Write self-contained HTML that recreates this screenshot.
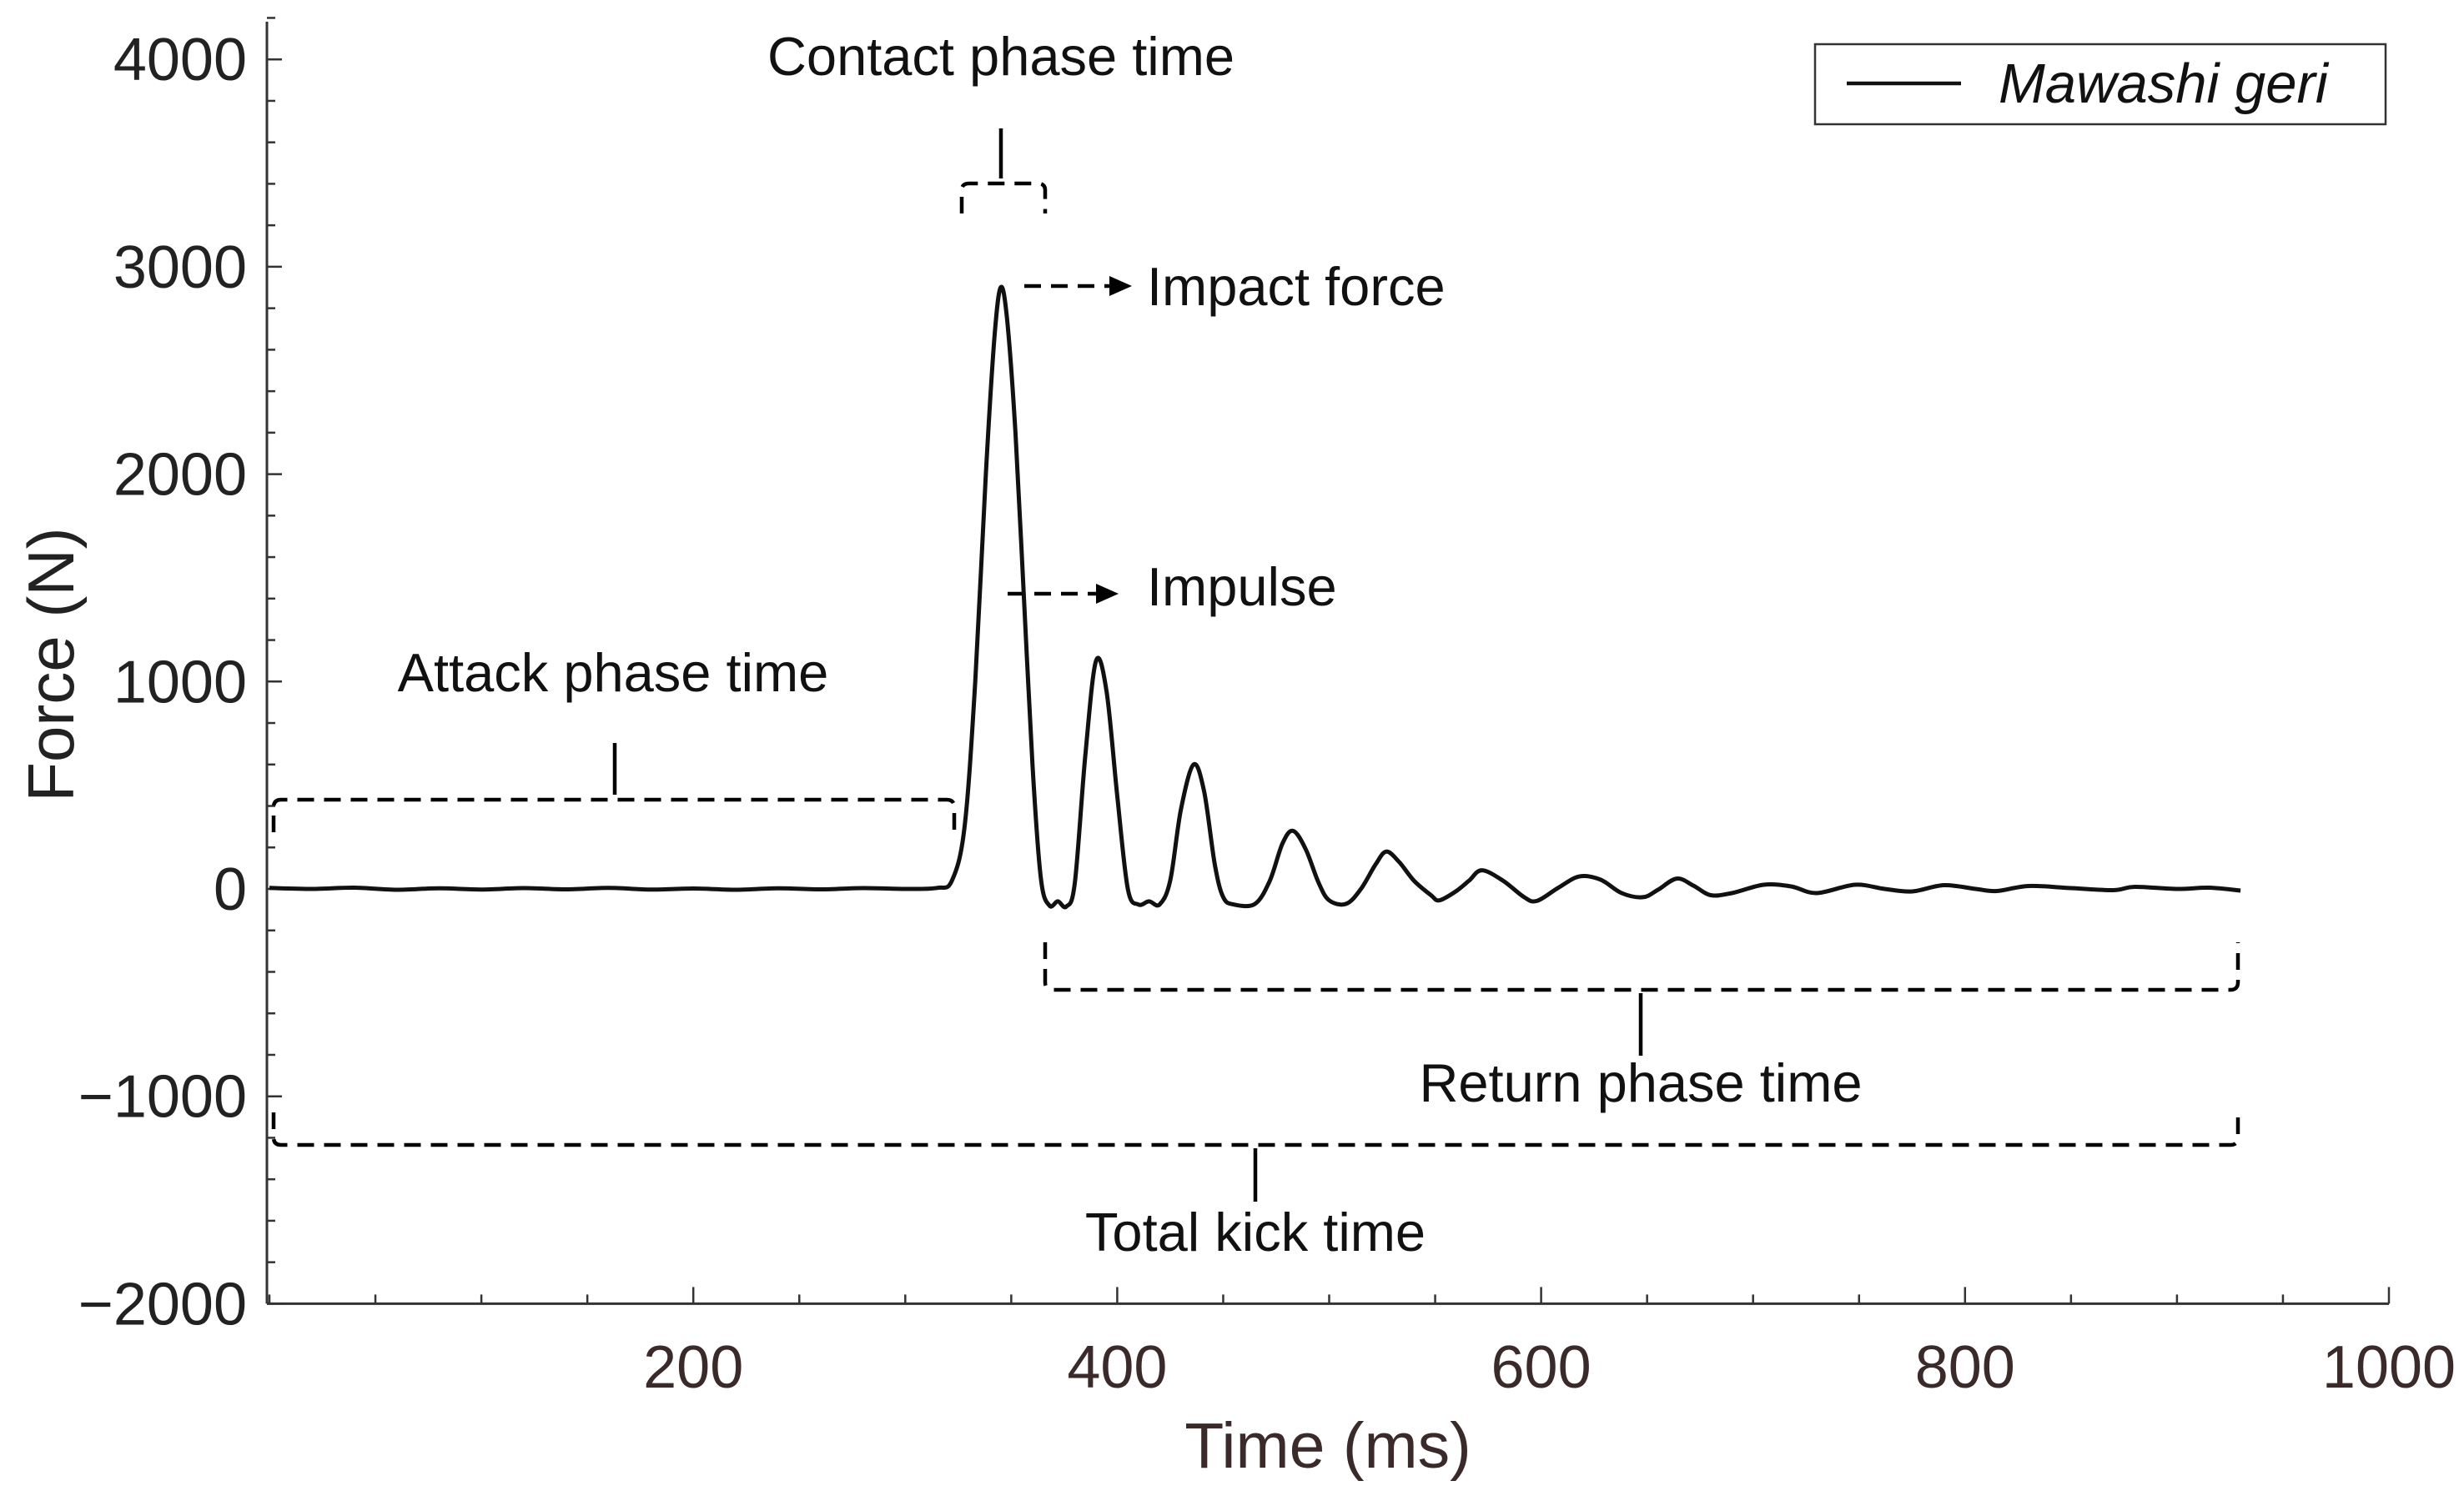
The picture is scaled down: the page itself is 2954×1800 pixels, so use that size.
<!DOCTYPE html>
<html><head><meta charset="utf-8"><style>
html,body{margin:0;padding:0;background:#fff}
svg{display:block}
text{font-family:"Liberation Sans",Arial,sans-serif}
</style></head><body>
<svg id="chart" width="2954" height="1800" viewBox="0 0 2954 1800" xmlns="http://www.w3.org/2000/svg">
<g id="axes"></g>
<g id="annot" fill="none" stroke="#000" stroke-width="4.5" stroke-dasharray="20,12">
  <path d="M1153,256 V228 Q1153,220 1162,220 H1244 Q1253,220 1253,228 V256"/>
  <path d="M328,998 V968 Q328,959 337,959 H1135 Q1144,959 1144,968 V998"/>
  <path d="M1253,1130 V1178 Q1253,1187 1262,1187 H2674 Q2683,1187 2683,1178 V1130"/>
  <path d="M328,1334 V1364 Q328,1373 337,1373 H2674 Q2683,1373 2683,1364 V1334"/>
  <path d="M1228,343 H1335"/>
  <path d="M1208,712 H1320"/>
</g>
<g stroke="#000" stroke-width="4.5" fill="none">
  <path d="M1200,154 V214"/>
  <path d="M737,891 V953"/>
  <path d="M1967,1191 V1266"/>
  <path d="M1505,1377 V1441"/>
</g>
<polygon points="1330,331 1357,343 1330,355" fill="#000"/>
<polygon points="1314,700 1341,712 1314,724" fill="#000"/>
<g font-size="65" fill="#111">
  <text x="1200" y="90" text-anchor="middle">Contact phase time</text>
  <text x="1375" y="366">Impact force</text>
  <text x="1375" y="726">Impulse</text>
  <text x="735" y="829" text-anchor="middle">Attack phase time</text>
  <text x="1967" y="1321" text-anchor="middle">Return phase time</text>
  <text x="1505" y="1500" text-anchor="middle">Total kick time</text>
</g>
<path id="series" fill="none" stroke="#111" stroke-width="5" stroke-linejoin="round"/>
<g>
  <rect x="2176" y="53" width="684" height="96" fill="#fff" stroke="#333" stroke-width="2.5"/>
  <line x1="2214" y1="100" x2="2351" y2="100" stroke="#111" stroke-width="4.5"/>
  <text x="2396" y="123" font-size="67" font-style="italic" fill="#111">Mawashi geri</text>
</g>
</svg>
<script>
const timeMs=[0,20,40,60,80,100,120,140,160,180,200,220,240,260,280,300,315,322,328,333,338,342,345,348,352,356,360,364,368,372,376,380,385,390,395,400,405,410,415,420,425,430,436,441,446,450,455,465,472,478,483,489,495,500,508,515,522,527,533,540,548,552,560,566,572,582,592,598,608,618,628,638,648,655,664,672,680,690,705,718,730,748,762,775,790,805,815,830,850,870,880,900,915,930];
const forceN=[5,0,6,-4,3,-3,4,-2,5,-3,2,-4,3,-2,4,0,5,40,300,1000,2000,2650,2900,2750,2200,1400,600,50,-80,-60,-85,30,650,1100,950,450,0,-75,-60,-75,40,380,600,470,120,-40,-75,-72,40,220,280,190,30,-55,-72,0,120,180,130,40,-30,-55,-10,40,90,40,-40,-58,5,60,45,-20,-40,-5,50,15,-30,-20,20,12,-20,20,0,-12,18,0,-10,14,4,-6,10,0,6,-8];
const yTicks=[4000,3000,2000,1000,0,-1000,-2000];
const xTicks=[200,400,600,800,1000];
const X0=323,X1=2864,Y0=1066,PX=(X1-X0)/1000,PY=248.7/1000;
const sx=t=>X0+t*PX, sy=v=>Y0-v*PY;
const NS="http://www.w3.org/2000/svg";
const ax=document.getElementById('axes');
function mk(tag,attrs){const e=document.createElementNS(NS,tag);for(const k in attrs)e.setAttribute(k,attrs[k]);ax.appendChild(e);return e;}
const yAxis=mk('line',{x1:320,y1:26,x2:320,y2:sy(-2000),stroke:'#333','stroke-width':3});


const xAxis=mk('line',{x1:320,y1:sy(-2000),x2:X1,y2:sy(-2000),stroke:'#333','stroke-width':3});


for(let v=-2000;v<=4200;v+=200){const maj=v%1000===0;const t=mk('line',{x1:320,y1:sy(v),x2:320+(maj?18:10),y2:sy(v),stroke:'#333','stroke-width':2.5});

}
for(let t=0;t<=1000;t+=50){const maj=t%200===0&&t>0;const l=mk('line',{x1:sx(t),y1:sy(-2000),x2:sx(t),y2:sy(-2000)-(maj?20:11),stroke:'#333','stroke-width':2.5});

}
yTicks.forEach(v=>{const e=mk('text',{x:296,y:sy(v)+25,'text-anchor':'end','font-size':72,fill:'#222'});e.textContent=v<0?'\u2212'+Math.abs(v):String(v);

});
xTicks.forEach(v=>{const e=mk('text',{x:sx(v),y:1664,'text-anchor':'middle','font-size':72,fill:'#3b2a2a'});e.textContent=String(v);

});
const xt=mk('text',{x:1592,y:1760,'text-anchor':'middle','font-size':77,fill:'#3b2a2a'});xt.textContent='Time (ms)';


const yt=mk('text',{x:0,y:0,'text-anchor':'middle','font-size':78,fill:'#222',transform:'translate(88,797) rotate(-90)'});yt.textContent='Force (N)';


const P=timeMs.map((t,i)=>[sx(t),sy(forceN[i])]);
let d='M'+P[0][0].toFixed(1)+','+P[0][1].toFixed(1);
for(let i=0;i<P.length-1;i++){const p0=P[Math.max(0,i-1)],p1=P[i],p2=P[i+1],p3=P[Math.min(P.length-1,i+2)];
const c1=[p1[0]+(p2[0]-p0[0])/6,p1[1]+(p2[1]-p0[1])/6],c2=[p2[0]-(p3[0]-p1[0])/6,p2[1]-(p3[1]-p1[1])/6];
d+=' C'+c1.map(n=>n.toFixed(1))+' '+c2.map(n=>n.toFixed(1))+' '+p2.map(n=>n.toFixed(1));}
document.getElementById('series').setAttribute('d',d);
</script>
</body></html>
